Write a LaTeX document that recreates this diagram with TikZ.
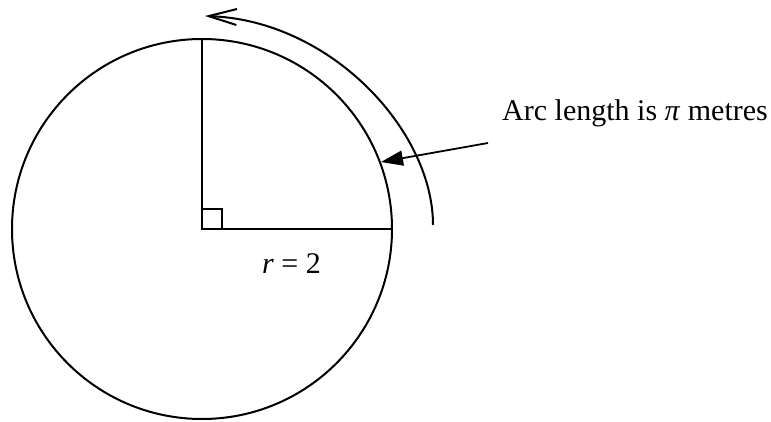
\documentclass[tikz,border=0pt]{standalone}
\usepackage{fontspec}
\setmainfont{Liberation Serif}
\usepackage{tikz}
\usetikzlibrary{
	arrows.meta,
	calc,
	positioning
}

\tikzset{
	figline/.style={line width=2pt, black},
	labeltext/.style={inner sep=0pt, font=\fontsize{30}{36}\selectfont}
}

\begin{document}
\begin{tikzpicture}[x=1pt, y=-1pt]
	% 画布范围
	\useasboundingbox (0,0) rectangle (771,422);
	
	% 命名点
	\coordinate (O) at (202,229);
	\coordinate (T) at (202,39);
	\coordinate (R) at (392,229);
	
	% 画圆和两条半径
	\draw[figline] (O) circle[radius=190pt];
	\draw[figline] (T) -- (O) -- (R);
	
	% 直角记号
	\draw[line width=1.6pt] (O) ++(20,0) -- ++(0,-20) -- ++(-20,0);
	
	% 半径标注
	\node[labeltext, anchor=base west] (rlabel) at (262,273) {\textit{r} = 2};
	
	% 弧长箭头
	\coordinate (arcstart) at (433,225);
	\coordinate (arcend) at (205,16);
	\draw[figline, -{Straight Barb[length=28pt, width=16pt, line width=2pt]}]
		(arcstart) .. controls (433,130) and (330,20) .. (arcend);
	
	% 说明文字与指示箭头
	\node[labeltext, anchor=base west] (arclabel) at (502,121) {Arc length is \textit{π} metres};
	\coordinate (ptrstart) at (488,143);
	\coordinate (ptrtip) at (381,162);
	\draw[line width=1.8pt, -{Triangle[length=22pt, width=15pt]}] (ptrstart) -- (ptrtip);
\end{tikzpicture}
\end{document}
